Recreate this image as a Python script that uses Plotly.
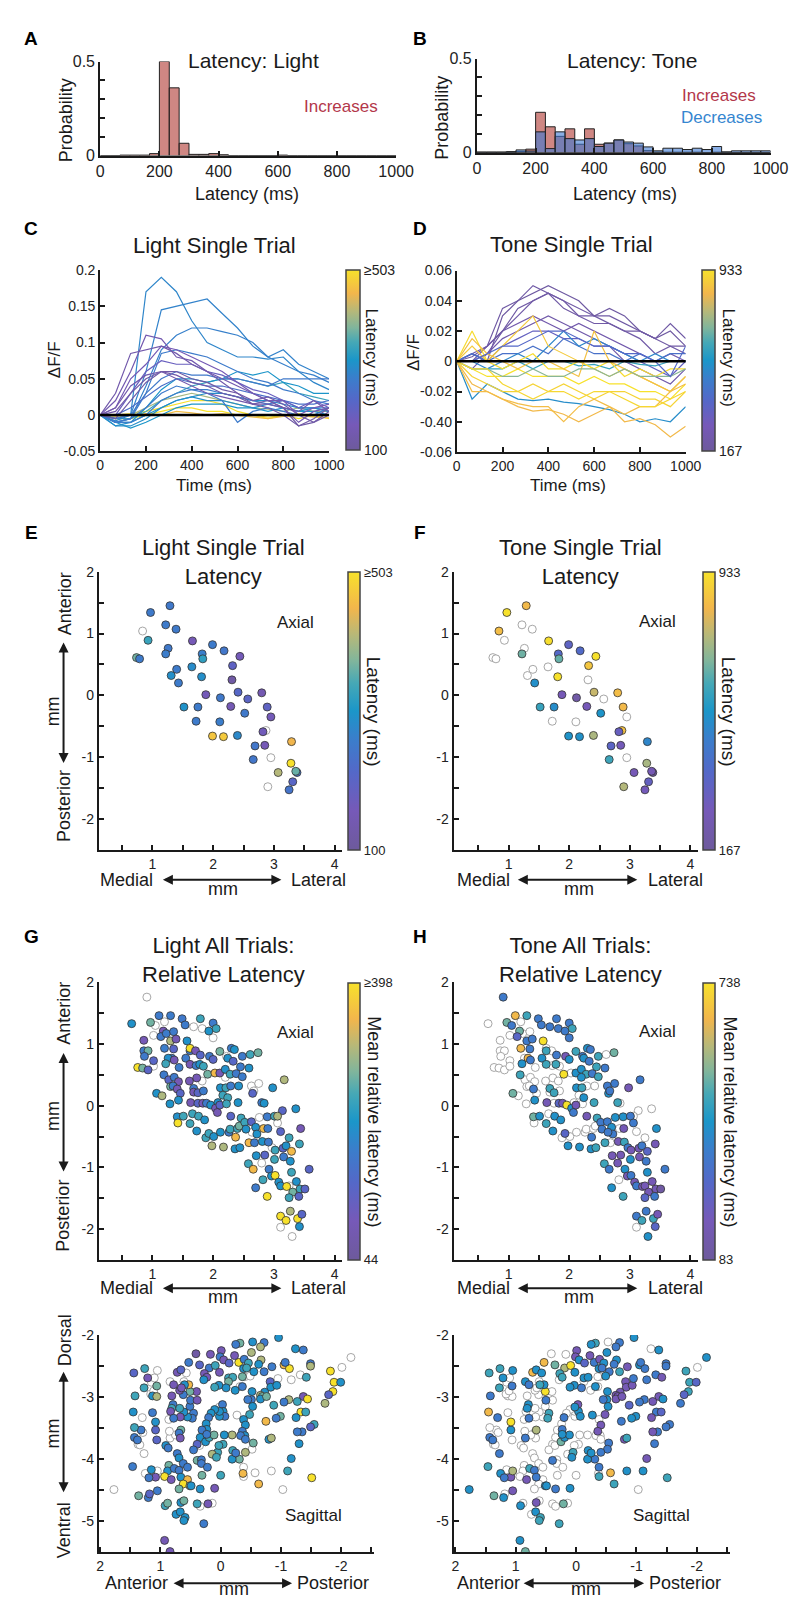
import plotly.graph_objects as go

W, H = 801, 1599
FONT = "Liberation Sans, Arial, Helvetica, sans-serif"
INK = "#1a1a1a"

# parula-like map used in all panels (purple -> blue -> cyan -> khaki -> yellow)
CMAP = [[0.0, "#6d5a9c"], [0.14, "#7659b8"], [0.28, "#5468c8"], [0.4, "#3a7ecb"],
        [0.5, "#1b96c9"], [0.6, "#46a8b6"], [0.68, "#80b59c"], [0.77, "#b5b87a"],
        [0.87, "#f2b64c"], [1.0, "#f7e12b"]]

# ---------------- A / B: latency histograms (30 bins of 33.3 ms) ----------------
N_BINS = 30
light_inc = [0, 0, 0.002, 0.002, 0.002, 0.01, 0.5, 0.36, 0.065, 0.006,
             0.006, 0.01, 0.004, 0, 0, 0, 0, 0, 0.002, 0,
             0, 0, 0, 0, 0, 0, 0, 0, 0, 0]
tone_inc = [0.002, 0.002, 0.002, 0.0, 0.005, 0.018, 0.214, 0.137, 0.086, 0.126,
            0.044, 0.126, 0.044, 0.05, 0.067, 0.047, 0.035, 0.01, 0.002, 0.002,
            0.002, 0.002, 0.002, 0.0, 0.002, 0, 0, 0, 0, 0]
tone_dec = [0.002, 0.002, 0.002, 0.005, 0.014, 0.008, 0.11, 0.021, 0.11, 0.074,
            0.067, 0.074, 0.032, 0.05, 0.067, 0.056, 0.05, 0.03, 0.009, 0.023,
            0.023, 0.016, 0.023, 0.016, 0.032, 0.004, 0.009, 0.009, 0.009, 0.009]

# ---------------- C / D: single trial traces ----------------
time_ms = [0, 67, 133, 200, 267, 333, 400, 467, 533, 600, 667, 733, 800, 867, 933, 1000]

light_latency = [275, 270, 265, 130, 140, 150, 180, 120, 255, 250, 300, 330,
                 260, 290, 255, 520, 500, 460, 400, 125, 230, 135, 290, 300]
light_traces = [
    [0, -0.008, 0.0, 0.17, 0.19, 0.17, 0.13, 0.1, 0.09, 0.08, 0.08, 0.077, 0.08, 0.06, 0.045, 0.035],
    [0, -0.005, 0, 0.06, 0.145, 0.15, 0.155, 0.16, 0.14, 0.12, 0.095, 0.08, 0.09, 0.07, 0.06, 0.05],
    [0, -0.01, -0.005, 0.04, 0.09, 0.11, 0.12, 0.12, 0.115, 0.11, 0.1, 0.08, 0.07, 0.06, 0.055, 0.045],
    [0, 0.03, 0.085, 0.09, 0.095, 0.085, 0.07, 0.06, 0.045, 0.03, 0.02, 0.025, 0.015, 0.0, -0.01, 0.005],
    [0, 0.02, 0.06, 0.11, 0.105, 0.08, 0.075, 0.06, 0.05, 0.04, 0.03, 0.02, 0.01, -0.01, 0.005, 0.01],
    [0, 0.01, 0.05, 0.07, 0.095, 0.09, 0.08, 0.07, 0.06, 0.045, 0.03, 0.02, 0.02, 0.0, 0.01, 0.015],
    [0, 0.0, 0.03, 0.06, 0.075, 0.07, 0.07, 0.06, 0.055, 0.045, 0.035, 0.03, 0.02, 0.01, 0.02, 0.01],
    [0, -0.005, 0.02, 0.045, 0.06, 0.06, 0.05, 0.045, 0.035, 0.03, 0.015, 0.01, 0.0, -0.015, -0.01, 0.0],
    [0, -0.01, -0.005, 0.03, 0.085, 0.09, 0.085, 0.08, 0.07, 0.06, 0.05, 0.045, 0.035, 0.03, 0.02, 0.015],
    [0, -0.005, 0.0, 0.03, 0.05, 0.06, 0.055, 0.055, 0.05, 0.05, 0.045, 0.04, 0.05, 0.05, 0.05, 0.05],
    [0, -0.01, -0.01, 0.01, 0.035, 0.05, 0.05, 0.045, 0.05, 0.06, 0.055, 0.06, 0.045, 0.04, 0.03, 0.03],
    [0, -0.005, -0.005, 0.005, 0.02, 0.03, 0.04, 0.045, 0.05, 0.05, 0.045, 0.04, 0.045, 0.03, 0.025, 0.02],
    [0, -0.01, -0.01, 0.0, 0.02, 0.03, 0.035, 0.035, 0.03, 0.025, 0.02, 0.015, 0.02, 0.01, 0.01, 0.01],
    [0, -0.015, -0.01, 0.0, 0.01, 0.02, 0.025, 0.02, 0.02, 0.015, 0.01, 0.015, 0.01, 0.005, 0.01, 0.005],
    [0, -0.01, -0.005, 0.01, 0.03, 0.04, 0.035, 0.03, 0.02, -0.01, 0.005, 0.01, 0.005, 0.0, 0.0, 0.01],
    [0, -0.005, -0.005, 0.0, 0.005, 0.01, 0.01, 0.005, 0.005, 0.0, 0.0, -0.005, 0.0, -0.005, 0.0, -0.005],
    [0, 0.0, 0.002, 0.005, 0.01, 0.015, 0.02, 0.02, 0.015, 0.005, 0.0, -0.003, 0.0, 0.002, -0.002, 0.0],
    [0, -0.002, 0.0, 0.002, 0.0, 0.005, 0.003, 0.0, 0.002, 0.0, -0.003, -0.005, -0.002, 0.0, -0.003, -0.004],
    [0, -0.003, 0.0, 0.01, 0.02, 0.025, 0.03, 0.025, 0.02, 0.015, 0.01, 0.008, 0.005, 0.01, 0.005, 0.005],
    [0, 0.005, 0.03, 0.05, 0.06, 0.055, 0.045, 0.04, 0.03, 0.025, 0.015, 0.02, 0.01, -0.015, -0.005, 0.01],
    [0, 0.0, 0.01, 0.025, 0.04, 0.05, 0.045, 0.04, 0.04, 0.035, 0.03, 0.025, 0.02, 0.015, 0.015, 0.02],
    [0, 0.01, 0.04, 0.055, 0.06, 0.05, 0.04, 0.03, 0.025, 0.02, 0.015, 0.015, 0.01, 0.005, 0.02, 0.005],
    [0, -0.015, -0.015, -0.005, 0.01, 0.02, 0.025, 0.03, 0.03, 0.025, 0.02, 0.02, 0.015, 0.01, 0.01, 0.005],
    [0, -0.01, -0.018, -0.01, 0.0, 0.01, 0.015, 0.015, 0.015, 0.01, 0.01, 0.005, 0.01, 0.005, 0.005, 0.0],
]

tone_latency = [200, 190, 210, 230, 330, 220, 200, 420, 500, 520, 600,
                900, 933, 840, 850, 880, 920, 860, 700, 910, 380]
tone_traces = [
    [0, 0.0, 0.01, 0.035, 0.04, 0.05, 0.045, 0.04, 0.035, 0.03, 0.03, 0.025, 0.02, 0.015, 0.01, 0.01],
    [0, 0.005, 0.0, 0.03, 0.04, 0.045, 0.05, 0.045, 0.04, 0.03, 0.035, 0.03, 0.02, 0.015, 0.02, 0.01],
    [0, -0.005, 0.005, 0.02, 0.03, 0.04, 0.045, 0.04, 0.03, 0.025, 0.025, 0.02, 0.015, 0.005, 0.01, 0.005],
    [0, 0.005, 0.01, 0.02, 0.025, 0.03, 0.025, 0.02, 0.025, 0.02, 0.015, 0.01, 0.005, 0.0, 0.005, 0.0],
    [0, 0.005, 0.0, 0.01, 0.015, 0.02, 0.02, 0.015, 0.015, 0.01, 0.01, 0.005, 0.0, -0.005, -0.01, 0.0],
    [0, 0.0, 0.005, 0.015, 0.02, 0.025, 0.03, 0.025, 0.02, 0.015, 0.01, 0.0, -0.005, -0.01, -0.015, -0.005],
    [0, 0.003, 0.01, 0.02, 0.035, 0.04, 0.045, 0.035, 0.03, 0.03, 0.025, 0.02, 0.02, 0.015, 0.025, 0.015],
    [0, 0.005, 0.0, 0.005, 0.005, 0.01, 0.005, 0.015, 0.01, 0.005, 0.005, 0.0, 0.005, 0.0, 0.005, 0.005],
    [0, 0.0, -0.005, 0.0, 0.005, 0.0, 0.01, 0.02, 0.01, 0.015, 0.01, 0.005, 0.0, 0.005, 0.0, 0.0],
    [0, -0.025, -0.015, -0.02, -0.025, -0.026, -0.025, -0.027, -0.028, -0.03, -0.032, -0.035, -0.04, -0.038, -0.04, -0.03],
    [0, -0.005, -0.005, -0.005, 0.0, -0.005, 0.0, 0.0, -0.003, -0.002, -0.005, 0.0, -0.002, -0.003, 0.0, 0.0],
    [0, -0.01, -0.015, -0.02, -0.02, -0.015, -0.02, -0.015, -0.02, -0.025, -0.02, -0.02, -0.025, -0.025, -0.03, -0.02],
    [0, -0.005, -0.01, -0.01, -0.005, -0.01, -0.01, -0.01, -0.015, -0.01, -0.015, -0.015, -0.02, -0.02, -0.025, -0.015],
    [0, -0.015, -0.02, -0.025, -0.03, -0.033, -0.032, -0.035, -0.04, -0.035, -0.03, -0.04, -0.038, -0.042, -0.05, -0.043],
    [0, -0.02, -0.02, -0.025, -0.028, -0.03, -0.03, -0.04, -0.03, -0.025, -0.03, -0.035, -0.03, -0.03, -0.02, -0.015],
    [0, 0.01, 0.0, 0.01, 0.02, 0.03, 0.01, 0.005, 0.0, -0.005, -0.01, -0.005, -0.01, -0.015, -0.02, -0.01],
    [0, 0.02, 0.0, -0.005, 0.0, 0.005, -0.005, -0.005, 0.0, -0.005, 0.0, -0.01, -0.005, -0.01, -0.005, -0.005],
    [0, 0.015, 0.005, 0.0, -0.005, 0.0, 0.0, -0.005, -0.01, 0.02, 0.0, -0.005, -0.01, -0.015, -0.02, -0.01],
    [0, -0.005, -0.005, -0.01, -0.01, -0.005, -0.01, -0.01, -0.005, -0.005, -0.01, -0.005, -0.01, -0.01, -0.01, -0.005],
    [0, -0.005, -0.005, -0.015, -0.02, -0.025, -0.02, -0.02, -0.025, -0.02, -0.02, -0.025, -0.03, -0.03, -0.025, -0.02],
    [0, 0.0, 0.005, 0.01, 0.01, 0.015, 0.02, 0.02, 0.015, 0.01, 0.01, 0.005, 0.005, 0.0, -0.01, 0.01],
]

# ---------------- E / F: single trial latency maps (same sites) ----------------
site_x = [0.97, 1.29, 0.84, 0.93, 0.74, 0.79, 1.22, 1.39, 1.26, 1.22,
          1.40, 1.31, 1.43, 1.66, 1.65, 1.82, 1.83, 1.81, 1.99, 2.18,
          2.44, 2.32, 2.31, 1.88, 2.12, 1.52, 1.75, 2.29, 2.41, 2.57,
          2.80, 2.52, 2.89, 2.95, 1.72, 2.11, 1.99, 2.17, 2.40, 2.87,
          2.82, 2.69, 2.85, 2.66, 2.95, 3.29, 3.28, 3.07, 3.38, 3.36,
          3.31, 3.25, 2.90]
site_y = [1.34, 1.45, 1.04, 0.89, 0.61, 0.59, 1.14, 1.07, 0.76, 0.67,
          0.42, 0.32, 0.20, 0.88, 0.46, 0.67, 0.59, 0.30, 0.82, 0.72,
          0.63, 0.48, 0.25, 0.01, -0.04, -0.19, -0.19, -0.18, 0.05, -0.06,
          0.04, -0.29, -0.19, -0.35, -0.42, -0.43, -0.66, -0.67, -0.65, -0.57,
          -0.59, -0.82, -0.81, -1.04, -1.01, -0.75, -1.10, -1.25, -1.25, -1.23,
          -1.40, -1.53, -1.48]
light_site_lat = [253, 250, None, 330, 366, 255, 255, 252, 250, 258,
                  255, 290, 255, 155, 285, 262, 320, 290, 255, 245,
                  160, 195, 118, 160, 250, 295, 255, 150, 210, 200,
                  145, 250, 195, 160, 255, 260, 470, 475, 280, None,
                  165, 245, 155, 245, None, 450, 503, 410, 240, 360,
                  205, 240, None]
tone_site_lat = [933, 840, 850, None, None, None, None, None, None, 670,
                 None, None, 530, 925, None, 380, 660, 933, 350, 390,
                 933, 870, None, 270, 210, 600, 520, 275, 780, None,
                 850, 545, 840, None, None, None, 540, 535, 745, 860,
                 320, 360, 280, 610, None, 500, 740, 270, 200, 260,
                 330, 280, 755]

# ---------------- G / H: all trials, axial view ----------------
ax_x = [0.91, 0.66, 0.97, 1.05, 1.11, 1.30, 1.20, 1.18, 1.02, 1.14,
        1.23, 1.35, 1.49, 1.54, 1.57, 1.68, 1.79, 1.82, 2.00, 1.93,
        2.05, 2.00, 0.86, 1.30, 1.39, 0.86, 0.93, 0.87, 1.20, 1.35,
        1.32, 1.26, 1.36, 1.02, 0.76, 0.84, 0.93, 1.02, 1.22, 1.44,
        1.55, 1.62, 1.62, 1.71, 1.79, 1.62, 1.72, 1.78, 1.84, 1.94,
        2.00, 2.11, 2.22, 2.24, 2.33, 2.30, 2.35, 2.48, 2.61, 2.74,
        2.59, 2.45, 1.91, 2.03, 2.11, 2.20, 2.28, 2.38, 2.48, 2.20,
        1.19, 1.27, 1.36, 1.43, 1.07, 1.16, 1.30, 1.34, 1.41, 1.46,
        1.43, 1.29, 1.61, 1.73, 1.82, 1.68, 1.68, 1.75, 1.84, 1.63,
        1.75, 1.83, 1.89, 1.96, 2.12, 2.21, 2.29, 2.42, 2.16, 2.24,
        2.08, 2.04, 2.07, 2.11, 2.22, 2.41, 2.65, 2.63, 2.75, 2.67,
        2.98, 3.17, 2.80, 2.84, 3.14, 3.36, 1.41, 1.42, 1.51, 1.66,
        1.76, 1.62, 1.86, 1.73, 1.88, 1.93, 2.01, 2.12, 2.26, 2.28,
        2.40, 2.29, 2.46, 2.43, 2.52, 2.54, 2.63, 2.70, 2.72, 2.64,
        2.76, 2.83, 2.89, 2.90, 3.01, 3.06, 3.06, 3.11, 3.25, 3.44,
        3.42, 1.98, 2.17, 2.36, 2.44, 2.37, 2.59, 2.68, 2.81, 2.91,
        2.97, 3.02, 3.15, 3.20, 3.29, 3.16, 3.27, 2.71, 2.85, 3.01,
        2.80, 2.58, 2.66, 2.92, 2.96, 3.02, 3.29, 3.58, 2.70, 2.89,
        2.82, 3.08, 3.11, 3.21, 3.25, 3.31, 3.37, 3.43, 3.51, 3.41,
        3.25, 3.11, 3.20, 3.27, 3.39, 3.46, 3.42, 3.11, 3.30]
ax_y = [1.76, 1.33, 1.35, 1.30, 1.46, 1.46, 1.36, 1.21, 1.14, 1.12,
        1.17, 1.20, 1.41, 1.31, 1.05, 1.28, 1.41, 1.25, 1.34, 1.21,
        1.25, 1.10, 1.06, 1.05, 1.08, 0.89, 0.89, 0.80, 0.93, 0.92,
        0.77, 0.77, 0.74, 0.73, 0.62, 0.61, 0.58, 0.64, 0.68, 0.62,
        0.77, 0.89, 0.93, 0.89, 0.82, 0.67, 0.65, 0.67, 0.64, 0.80,
        0.75, 0.88, 0.80, 0.77, 0.72, 0.93, 0.91, 0.80, 0.83, 0.86,
        0.61, 0.63, 0.51, 0.53, 0.53, 0.59, 0.51, 0.52, 0.47, 0.46,
        0.50, 0.42, 0.46, 0.39, 0.20, 0.16, 0.31, 0.32, 0.27, 0.20,
        0.09, 0.03, 0.40, 0.45, 0.40, 0.28, 0.22, 0.21, 0.24, 0.05,
        0.04, 0.04, 0.04, 0.01, 0.29, 0.29, 0.32, 0.32, 0.17, 0.13,
        0.05, -0.04, -0.11, 0.01, 0.03, 0.05, 0.20, 0.32, 0.36, 0.24,
        0.29, 0.42, 0.05, 0.04, -0.08, -0.05, -0.18, -0.28, -0.17, -0.13,
        -0.17, -0.29, -0.23, -0.41, -0.52, -0.45, -0.50, -0.43, -0.43, -0.38,
        -0.37, -0.17, -0.20, -0.33, -0.27, -0.38, -0.26, -0.35, -0.46, -0.43,
        -0.19, -0.37, -0.18, -0.37, -0.17, -0.17, -0.28, -0.42, -0.52, -0.37,
        -0.62, -0.65, -0.67, -0.70, -0.68, -0.51, -0.60, -0.60, -0.58, -0.59,
        -0.68, -0.72, -0.69, -0.65, -0.74, -0.83, -0.90, -0.81, -0.80, -0.87,
        -0.93, -0.94, -1.03, -1.03, -1.14, -1.13, -1.08, -1.03, -1.33, -1.47,
        -1.20, -1.24, -1.30, -1.31, -1.30, -1.40, -1.23, -1.35, -1.35, -1.47,
        -1.49, -1.79, -1.86, -1.71, -1.83, -1.76, -1.96, -1.97, -2.12]
light_ax_lat = [None, 214, 278, None, 179, 182, None, 90, None, 176,
                181, 178, 175, 180, 214, None, 249, None, 179, 216,
                247, None, 92, 313, 88, 180, 276, 177, 183, 136,
                178, 212, 90, 138, 398, 280, 134, None, 250, 181,
                179, 176, 398, 91, 137, 89, 180, 215, 248, 178,
                135, 279, None, 213, 139, 181, 216, 177, 251, 277,
                214, 180, 278, 355, 90, 212, 249, 178, 182, None,
                180, 136, 177, 88, 215, 312, 279, 181, 91, 137,
                213, 216, 89, 92, None, 179, 90, 135, 180, 88,
                138, 91, 178, 214, 215, 250, 181, 213, 248, 251,
                214, 90, 89, 137, 249, 216, 136, None, None, None,
                213, 314, 180, 215, 138, 214, 212, 398, 250, 248,
                249, 251, 215, 213, 250, 248, 214, 216, 179, 249,
                250, 136, 249, 278, 248, 214, 137, 213, 215, None,
                None, 356, 179, 181, 249, 313, None, 136, 250, 90,
                248, 314, 312, 214, 213, 355, 354, 180, 215, 178,
                None, 249, 137, 214, 356, 179, 215, 213, 136, 250,
                None, 248, 355, 180, 214, 398, 249, 137, 179, 398,
                250, 213, 215, 398, None, 278, 214, 249, 136, 138,
                249, 398, 398, 313, 398, 137, 214, None, None]
tone_ax_lat = [332, None, 515, 330, 659, 463, None, 512, None, 253,
               None, None, 333, 331, 738, 332, 334, 330, 332, 333,
               463, 331, None, 332, 330, None, None, None, 659, 333,
               655, None, 332, None, None, None, None, None, 397, None,
               398, 463, None, None, 331, 462, None, 464, None, 168,
               397, 463, 332, 398, 331, 396, 333, 462, None, 515,
               332, 463, 738, None, 397, 398, 463, 331, 462, 397,
               463, None, None, None, 515, None, None, None, 332, None,
               397, None, None, None, None, 463, None, 462, None, 168,
               None, 253, 168, 738, 397, 463, None, None, None, 398,
               None, 397, 332, 168, None, 463, 397, 331, 333, 332,
               168, 332, 463, None, None, None, 515, None, 397, None,
               397, 463, 398, 396, None, 253, None, None, None, None,
               None, 168, 463, None, 332, 331, 333, 397, 332, 331,
               397, None, 398, 168, 332, None, 332, None, None, 397,
               168, 397, 398, 396, 463, 332, 463, None, 168, 463,
               332, 168, 170, 332, 253, 168, 331, 168, 166, 397,
               168, 463, 332, 397, 168, 332, 397, 331, 397, 463,
               None, 168, 332, 168, 170, 166, 168, 168, 109, 332,
               253, 332, 463, 332, 463, 168, 253, None, 397]

# ---------------- G / H: all trials, sagittal view ----------------
sag_x = [-0.96, -0.53, -0.32, -0.25, -0.72, -0.66, -0.51, -0.30, -0.39, -0.46,
         -0.67, -0.63, -0.01, 0.01, -0.05, -0.23, -0.14, 0.17, 0.41, 0.53,
         0.35, 0.19, 0.09, 0.02, 0.27, 0.23, 0.28, -0.38, -0.43, -0.55,
         -0.72, -0.85, -0.40, -0.49, -0.36, -0.13, -0.20, -0.13, -0.32, 0.03,
         0.10, -0.09, -0.24, -0.36, -0.52, -0.82, -0.83, -0.73, -0.66, -0.69,
         -0.93, -0.95, -1.05, -1.14, -1.07, -1.17, -1.24, -1.37, -1.32, -1.42,
         -1.49, -1.49, -1.82, -1.88, -1.99, -2.01, -2.16, -1.86, -1.79, -1.73,
         -1.37, -1.44, -1.27, -1.13, -1.05, -0.88, -1.33, -1.41, -1.25, -0.99,
         -0.92, -0.75, -0.66, -0.76, -0.51, -0.45, -0.53, -0.48, -0.38, -0.27,
         -0.41, -0.36, -0.40, -0.33, -0.41, -0.54, -0.52, -0.41, -0.31, -0.19,
         -0.20, -0.25, -0.19, -0.06, -0.04, 0.05, 0.03, 0.14, 0.07, -0.03,
         -0.04, -0.07, 0.02, 0.02, 0.02, 0.10, 0.16, 0.20, 0.24, 0.23,
         0.31, 0.34, 0.25, 0.19, 0.11, 0.23, 0.39, 0.45, 0.39, 0.32,
         0.32, 0.22, 0.31, 0.35, 0.45, 0.47, 0.55, 0.61, 0.51, 0.50,
         0.39, 0.40, 0.51, 0.62, 0.68, 0.53, 0.60, 0.72, 0.66, 0.57,
         0.81, 0.79, 0.81, 0.83, 0.68, 0.67, 0.78, 0.66, 0.69, 0.67,
         0.84, 0.75, 0.85, 0.91, 0.87, 1.06, 1.08, 1.08, 1.13, 1.13,
         1.06, 1.16, 1.11, 1.06, 1.15, 1.21, 1.10, 1.27, 1.42, 1.45,
         1.30, 1.32, 1.29, 1.43, 1.37, 1.38, 1.27, 1.46, 1.25, 1.15,
         1.08, 1.19, 1.05, 0.86, 0.88, 0.93, 0.77, 0.69, 0.82, 0.72,
         0.69, 0.62, 0.66, 0.55, 0.55, 0.62, 0.69, 0.51, 0.49, 0.34,
         0.10, 1.05, 1.36, 1.20, 1.18, 1.77, 0.92, 0.88, 0.66, 0.61,
         0.74, 0.67, 0.59, 0.61, 0.39, 0.34, 0.21, 0.14, 0.28, 0.93,
         0.84, 0.00, -0.38, -0.38, -0.37, -0.57, -0.63, -0.84, -1.11, -1.17,
         -1.03, -1.51, -1.55, -1.49, -1.35, -1.27, -1.30, -0.80, -0.84, 1.44,
         1.26, 1.05, 0.84, 0.61, 0.78, 0.65, 1.43, 1.34, 0.86]
sag_y = [-2.04, -2.11, -2.13, -2.15, -2.12, -2.19, -2.28, -2.44, -2.39, -2.45,
         -2.40, -2.47, -2.25, -2.35, -2.40, -2.33, -2.45, -2.31, -2.30, -2.44,
         -2.48, -2.53, -2.49, -2.60, -2.62, -2.68, -2.72, -2.54, -2.53, -2.59,
         -2.59, -2.51, -2.67, -2.66, -2.67, -2.69, -2.68, -2.75, -2.83, -2.81,
         -2.84, -2.85, -2.89, -2.83, -2.91, -2.75, -2.84, -2.92, -2.97, -2.99,
         -2.81, -2.70, -2.48, -2.54, -2.44, -2.72, -2.22, -2.24, -2.64, -2.68,
         -2.46, -2.50, -2.58, -2.76, -2.76, -2.52, -2.36, -2.91, -2.96, -3.10,
         -2.99, -3.03, -3.07, -3.04, -3.08, -3.13, -3.24, -3.24, -3.33, -3.31,
         -3.34, -3.39, -3.03, -2.99, -3.04, -3.04, -3.15, -3.28, -3.36, -3.29,
         -3.45, -3.55, -3.62, -3.62, -3.68, -3.74, -3.84, -3.89, -4.00, -4.00,
         -3.86, -3.90, -3.61, -3.61, -3.76, -3.89, -3.78, -3.92, -3.97, -3.12,
         -3.23, -3.31, -3.31, -3.16, -3.23, -3.20, -3.26, -3.33, -3.43, -3.52,
         -3.53, -3.65, -3.72, -3.65, -3.61, -3.60, -3.76, -3.85, -4.02, -4.01,
         -4.07, -4.13, -4.26, -3.78, -3.26, -3.34, -3.32, -3.24, -3.15, -3.05,
         -3.05, -2.91, -2.91, -2.96, -2.89, -2.80, -2.80, -2.60, -2.56, -2.61,
         -2.98, -3.12, -3.18, -3.23, -3.18, -3.32, -3.34, -3.53, -3.58, -3.66,
         -3.66, -3.61, -3.55, -3.78, -3.82, -3.69, -3.53, -3.40, -3.25, -2.98,
         -2.99, -2.95, -2.90, -2.82, -2.76, -2.69, -2.69, -2.85, -2.98, -3.24,
         -3.33, -3.53, -3.57, -3.65, -3.76, -3.69, -3.91, -4.12, -4.23, -4.17,
         -4.29, -4.30, -4.19, -4.10, -4.19, -4.28, -4.15, -4.18, -4.33, -3.91,
         -3.98, -4.07, -4.29, -4.13, -4.33, -4.40, -4.48, -4.43, -4.43, -4.48,
         -4.47, -4.51, -4.59, -4.62, -4.56, -4.49, -4.75, -4.71, -4.70, -4.67,
         -4.89, -4.85, -4.94, -4.99, -4.72, -4.76, -4.72, -4.71, -5.04, -5.31,
         -5.49, -4.26, -4.13, -4.28, -4.23, -4.22, -4.40, -4.19, -4.19, -3.99,
         -4.49, -4.30, -3.44, -3.48, -3.56, -3.56, -3.75, -3.68, -3.66, -2.61,
         -2.54, -2.57, -2.75, -2.75, -2.80, -2.85, -3.49, -3.77, -3.36]
light_sag_lat = [214, 212, 278, 180, 178, 313, 312, 398, 181, 249,
                 314, 215, 90, 179, 88, 91, 137, 92, 58, 180,
                 136, 178, 249, 90, 89, 91, 214, 213, 250, 215,
                 179, 181, None, None, 278, 248, 250, 279, None, 214,
                 249, 213, 215, 180, 214, 137, 216, 213, 313, 278,
                 214, None, 355, 398, 179, None, 215, 180, None, 249,
                 178, 313, 398, 398, 214, None, None, 398, 136, 312,
                 90, 398, 249, 313, 180, 250, 398, 249, 214, 278,
                 179, 355, 213, 279, 178, 181, 215, 249, 214, None,
                 214, 180, 213, 179, 181, 278, None, 313, 277, 215,
                 249, 179, 313, 214, 250, 248, 249, 312, 250, 180,
                 214, 178, 215, None, 213, 214, 216, 180, 214, 213,
                 179, 214, 215, 249, 278, 181, 136, 179, 278, 180,
                 178, 181, 279, None, 179, 180, 214, 213, 181, 178,
                 90, 89, 278, 180, 91, 355, 214, 90, 137, None,
                 90, 179, 249, 91, 250, 90, 180, 278, 179, 89,
                 None, None, None, 214, 180, 136, 137, 213, 179, 214,
                 313, None, None, 278, None, 90, None, 249, 250, 214,
                 None, 179, None, 180, None, 178, None, 181, None, 214,
                 90, 179, None, 278, 213, 398, 180, 178, 91, 179,
                 214, 180, 215, 179, 355, 398, 278, 313, 214, 213,
                 90, 180, 278, 179, 136, None, 249, 278, 214, 279,
                 213, 214, 215, 214, 249, None, 90, None, 180, 89,
                 91, 249, None, None, 355, None, 355, None, 250, 214,
                 None, 398, 249, 136, 179, 180, 214, 213, 313, 137,
                 249, None, None, None, 90, 91, 249, None, None]
tone_sag_lat = [397, None, 463, 398, 332, 331, 397, 332, 168, 396,
                397, 333, 168, 166, 397, 168, 253, None, None, 659,
                515, 581, 738, 397, 463, 462, None, 398, 332, 331,
                463, 168, None, 397, None, 396, 398, None, 397, 397,
                398, 332, None, None, 397, 168, 166, 168, 170, 168,
                168, 332, 397, 331, 333, 332, None, 397, 332, 168,
                332, 331, 463, 462, 253, None, 397, 463, 253, 332,
                168, 397, 168, 332, 331, 253, 332, 253, 168, 397,
                398, 332, 168, 168, 397, 332, 397, 168, None, 397,
                168, 168, None, None, None, 332, 331, 333, 332, 397,
                396, 397, None, None, None, 463, None, None, 397, 168,
                397, 398, None, 397, None, None, None, 332, None, 332,
                None, None, 515, 397, 397, 396, None, None, 332, None,
                None, None, None, None, 463, 462, None, None, None, 332,
                None, None, 738, None, None, 397, 463, 659, 397, 398,
                None, 397, 396, None, None, None, 332, 581, None, None,
                332, None, None, None, None, None, 397, 738, None, None,
                None, None, None, 332, None, 397, None, 463, 332, 659,
                332, None, None, 331, None, 333, 332, 463, 397, None,
                168, 332, 581, None, None, None, 463, 332, 168, None,
                None, None, 332, None, None, None, None, 397, 398, 332,
                397, 168, 515, 397, None, 397, 396, None, 168, None,
                None, 397, 463, 462, None, None, 515, None, 463, 397,
                515, None, 332, 463, None, 659, 463, 397, 397, 168,
                None, 463, 332, 331, 333, 168, 332, 168, 463, 463,
                462, 397, 397, None, 332, None, None, None, None]


def P(x):
    return x / W


def Q(y):
    return 1 - y / H


def cmap_color(lat, lo, hi):
    t = min(max((lat - lo) / (hi - lo), 0.0), 1.0)
    for (p0, c0), (p1, c1) in zip(CMAP[:-1], CMAP[1:]):
        if t <= p1:
            f = (t - p0) / (p1 - p0)
            a = [int(c0[i:i + 2], 16) for i in (1, 3, 5)]
            b = [int(c1[i:i + 2], 16) for i in (1, 3, 5)]
            r, g, bl = [round(a[k] + f * (b[k] - a[k])) for k in range(3)]
            return f"rgb({r},{g},{bl})"
    return CMAP[-1][1]


fig = go.Figure()
layout = {}

AX = dict(showline=True, linecolor=INK, linewidth=2, ticks="inside", ticklen=5, tickwidth=1.5,
          tickcolor=INK, showgrid=False, zeroline=False, fixedrange=True)


def axes(n, x0, x1, y0, y1, xr, yr, xt, xtt, yt, ytt, fs):
    s = "" if n == 1 else str(n)
    tf = dict(size=fs, color="#222", family=FONT)
    layout["xaxis" + s] = dict(domain=[P(x0), P(x1)], range=xr, anchor="y" + s, tickmode="array",
                               tickvals=xt, ticktext=xtt, tickfont=tf, **AX)
    layout["yaxis" + s] = dict(domain=[Q(y1), Q(y0)], range=yr, anchor="x" + s, tickmode="array",
                               tickvals=yt, ticktext=ytt, tickfont=tf, **AX)


def cbar_axis(lo, hi, lo_txt, hi_txt, x, y0, y1, th, fs):
    return dict(colorscale=CMAP, cmin=lo, cmax=hi,
                colorbar=dict(x=P(x), xanchor="left", xpad=0, y=Q((y0 + y1) / 2), yanchor="middle",
                              ypad=0, len=(y1 - y0) / H, lenmode="fraction", thickness=th,
                              outlinewidth=1.5, outlinecolor="#444", tickmode="array",
                              tickvals=[lo, hi], ticktext=[lo_txt, hi_txt], ticks="",
                              tickfont=dict(size=fs, color="#222", family=FONT)))


ms_ticks = [0, 200, 400, 600, 800, 1000]
ms_text = [str(v) for v in ms_ticks]

# A
axes(1, 90.7, 395, 46, 141, [0, 1000], [0, 0.5], ms_ticks, ms_text,
     [0, 0.1, 0.2, 0.3, 0.4, 0.5], ["0", "", "", "", "", "0.5"], 16)
# B
axes(2, 478, 780, 43, 138, [0, 1000], [0, 0.5], ms_ticks, ms_text,
     [0, 0.1, 0.2, 0.3, 0.4, 0.5], ["0", "", "", "", "", "0.5"], 16)
# C
axes(3, 90.7, 326, 256.7, 440, [0, 1000], [-0.05, 0.2], ms_ticks, ms_text,
     [-0.05, 0, 0.05, 0.1, 0.15, 0.2], ["-0.05", "0", "0.05", "0.1", "0.15", "0.2"], 14)
# D
axes(4, 457.3, 692.7, 257.3, 440.7, [0, 1000], [-0.06, 0.06], ms_ticks, ms_text,
     [-0.06, -0.04, -0.02, 0, 0.02, 0.04, 0.06],
     ["-0.06", "-0.40", "-0.02", "0", "0.02", "0.04", "0.06"], 14)

half_x = [0.5, 1, 1.5, 2, 2.5, 3, 3.5, 4]
half_xt = ["", "1", "", "2", "", "3", "", "4"]
half_y = [-2.5, -2, -1.5, -1, -0.5, 0, 0.5, 1, 1.5, 2]
half_yt = ["", "-2", "", "-1", "", "0", "", "1", "", "2"]
sag_xt_v = [2, 1.5, 1, 0.5, 0, -0.5, -1, -1.5, -2, -2.5]
sag_xt_t = ["2", "", "1", "", "0", "", "-1", "", "-2", ""]
sag_yt_v = [-5.5, -5, -4.5, -4, -3.5, -3, -2.5, -2]
sag_yt_t = ["", "-5", "", "-4", "", "-3", "", "-2"]

axes(5, 89.3, 339.3, 561.7, 842.7, [0.12, 4.12], [-2.5, 2], half_x, half_xt, half_y, half_yt, 14)
axes(6, 454, 705, 561.7, 842.7, [0.09, 4.12], [-2.5, 2], half_x, half_xt, half_y, half_yt, 14)
axes(7, 89.3, 339.3, 976.7, 1257.3, [0.12, 4.12], [-2.5, 2], half_x, half_xt, half_y, half_yt, 14)
axes(8, 454, 705, 976.7, 1257.3, [0.09, 4.12], [-2.5, 2], half_x, half_xt, half_y, half_yt, 14)
axes(9, 89.3, 372.7, 1333.3, 1552.7, [2.02, -2.55], [-5.5, -2], sag_xt_v, sag_xt_t, sag_yt_v, sag_yt_t, 14)
axes(10, 454, 738.3, 1333.3, 1552.7, [2.03, -2.55], [-5.5, -2], sag_xt_v, sag_xt_t, sag_yt_v, sag_yt_t, 14)

layout["coloraxis"] = cbar_axis(100, 503, "100", "≥503", 343, 257, 439, 14, 14)
layout["coloraxis2"] = cbar_axis(167, 933, "167", "933", 709, 257, 440, 13, 14)
layout["coloraxis3"] = cbar_axis(100, 503, "100", "≥503", 346, 562, 843, 12, 13)
layout["coloraxis4"] = cbar_axis(167, 933, "167", "933", 711, 562, 843, 12, 13)
layout["coloraxis5"] = cbar_axis(44, 398, "44", "≥398", 346, 977, 1257, 12, 13)
layout["coloraxis6"] = cbar_axis(83, 738, "83", "738", 711, 977, 1257, 12, 13)

# histograms
centers = [(i + 0.5) * 1000 / N_BINS for i in range(N_BINS)]
RED = "rgba(178,62,55,0.62)"
BLUE = "rgba(60,120,210,0.6)"
fig.add_trace(go.Bar(x=centers, y=light_inc, width=1000 / N_BINS, marker=dict(color=RED, line=dict(color="#222", width=1)),
                     xaxis="x", yaxis="y", showlegend=False))
fig.add_trace(go.Bar(x=centers, y=tone_inc, width=1000 / N_BINS, marker=dict(color=RED, line=dict(color="#222", width=1)),
                     xaxis="x2", yaxis="y2", showlegend=False))
fig.add_trace(go.Bar(x=centers, y=tone_dec, width=1000 / N_BINS, marker=dict(color=BLUE, line=dict(color="#222", width=1)),
                     xaxis="x2", yaxis="y2", showlegend=False))

# traces C / D
for lat, ys in sorted(zip(light_latency, light_traces), key=lambda p: -p[0]):
    fig.add_trace(go.Scatter(x=time_ms, y=ys, mode="lines", line=dict(color=cmap_color(lat, 100, 503), width=1.2),
                             xaxis="x3", yaxis="y3", showlegend=False, hoverinfo="skip"))
for lat, ys in zip(tone_latency, tone_traces):
    fig.add_trace(go.Scatter(x=time_ms, y=ys, mode="lines", line=dict(color=cmap_color(lat, 167, 933), width=1.2),
                             xaxis="x4", yaxis="y4", showlegend=False, hoverinfo="skip"))
for n, ca, lat in ((3, "coloraxis", light_latency), (4, "coloraxis2", tone_latency)):
    fig.add_trace(go.Scatter(x=[None], y=[None], mode="markers", marker=dict(color=[lat[0]], coloraxis=ca),
                             xaxis=f"x{n}", yaxis=f"y{n}", showlegend=False))
for n in (3, 4):
    fig.add_shape(type="line", xref=f"x{n} domain", x0=0, x1=1, yref=f"y{n}", y0=0, y1=0,
                  line=dict(color="black", width=2.5))


def sites(xs, ys, vals, n, ca):
    ox = [x for x, v in zip(xs, vals) if v is None]
    oy = [y for y, v in zip(ys, vals) if v is None]
    fx = [x for x, v in zip(xs, vals) if v is not None]
    fy = [y for y, v in zip(ys, vals) if v is not None]
    fv = [v for v in vals if v is not None]
    fig.add_trace(go.Scatter(x=ox, y=oy, mode="markers",
                             marker=dict(size=8, color="white", line=dict(color="#9c9c9c", width=0.9)),
                             xaxis=f"x{n}", yaxis=f"y{n}", showlegend=False, hoverinfo="skip"))
    fig.add_trace(go.Scatter(x=fx, y=fy, mode="markers",
                             marker=dict(size=8, color=fv, coloraxis=ca, line=dict(color="#333", width=0.8)),
                             xaxis=f"x{n}", yaxis=f"y{n}", showlegend=False, hoverinfo="skip"))


sites(site_x, site_y, light_site_lat, 5, "coloraxis3")
sites(site_x, site_y, tone_site_lat, 6, "coloraxis4")
sites(ax_x, ax_y, light_ax_lat, 7, "coloraxis5")
sites(ax_x, ax_y, tone_ax_lat, 8, "coloraxis6")
sites(sag_x, sag_y, light_sag_lat, 9, "coloraxis5")
sites(sag_x, sag_y, tone_sag_lat, 10, "coloraxis6")

ann = []


def txt(x, y, s, size, color="#1a1a1a", angle=0, bold=False):
    ann.append(dict(x=P(x), y=Q(y), xref="paper", yref="paper", text=f"<b>{s}</b>" if bold else s,
                    showarrow=False, textangle=angle, xanchor="center", yanchor="middle",
                    font=dict(size=size, color=color, family=FONT)))


def darrow(x0, y0, x1, y1):
    # head at (x1, y1); tail offset given in pixels
    ann.append(dict(x=P(x1), y=Q(y1), ax=x0 - x1, ay=y0 - y1, xref="paper", yref="paper",
                    text="", showarrow=True, arrowside="end+start",
                    arrowhead=2, startarrowhead=2, arrowsize=1, startarrowsize=1,
                    arrowwidth=2, arrowcolor=INK, standoff=0, startstandoff=0))


for s, x, y in (("A", 20, 23), ("B", 420, 23), ("C", 20, 215), ("D", 420, 215),
                ("E", 20, 522), ("F", 420, 522), ("G", 20, 930), ("H", 420, 930)):
    txt(x, y, s, 19, "black", bold=True)

txt(248, 45, "Latency: Light", 21)
txt(637, 45, "Latency: Tone", 21)
txt(338, 91, "Increases", 17, "#b3374a")
txt(727, 80, "Increases", 17, "#b3374a")
txt(730, 103, "Decreases", 17, "#3586d0")
txt(55, 105, "Probability", 18, angle=-90)
txt(442, 103, "Probability", 18, angle=-90)
txt(242, 180, "Latency (ms)", 18)
txt(630, 180, "Latency (ms)", 18)

txt(208, 232, "Light Single Trial", 22)
txt(575, 231, "Tone Single Trial", 22)
txt(43, 347, "ΔF/F", 17, angle=-90)
txt(413, 340, "ΔF/F", 17, angle=-90)
txt(208, 475, "Time (ms)", 17)
txt(572, 475, "Time (ms)", 17)
txt(370, 345, "Latency (ms)", 17, angle=90)
txt(737, 345, "Latency (ms)", 17, angle=90)

txt(217, 552, "Light Single Trial<br>Latency", 22)
txt(585, 552, "Tone Single Trial<br>Latency", 22)
txt(217, 954, "Light All Trials:<br>Relative Latency", 22)
txt(585, 954, "Tone All Trials:<br>Relative Latency", 22)
txt(372, 703, "Latency (ms)", 19, angle=90)
txt(737, 703, "Latency (ms)", 19, angle=90)
txt(372, 1118, "Mean relative latency (ms)", 18, angle=90)
txt(738, 1118, "Mean relative latency (ms)", 18, angle=90)

for x, y in ((292, 613), (664, 612), (292, 1027), (664, 1026)):
    txt(x, y, "Axial", 17)
for x in (310, 668):
    txt(x, 1516, "Sagittal", 17)

# vertical direction labels
for top, a0, a1, mid, bot, yt, yb in (("Anterior", 633, 755, 703, "Posterior", 594, 799),
                                      ("Anterior", 1048, 1168, 1112, "Posterior", 1008, 1213),
                                      ("Dorsal", 1370, 1492, 1433, "Ventral", 1339, 1531)):
    txt(54, yt, top, 18, angle=-90)
    txt(53, yb, bot, 18, angle=-90)
    txt(42, mid, "mm", 18, angle=-90)
    darrow(53, a0, 53, a1)

# horizontal direction labels
for l_txt, r_txt, lx, a0, a1, rx, mx, y, my in (
        ("Medial", "Lateral", 118, 157, 277, 315, 217, 873, 882),
        ("Medial", "Lateral", 485, 522, 643, 682, 583, 873, 882),
        ("Medial", "Lateral", 118, 157, 277, 315, 217, 1286, 1295),
        ("Medial", "Lateral", 485, 522, 643, 682, 583, 1286, 1295),
        ("Anterior", "Posterior", 128, 168, 288, 330, 228, 1584, 1590),
        ("Anterior", "Posterior", 490, 528, 650, 692, 590, 1584, 1590)):
    txt(lx, y, l_txt, 18)
    txt(rx, y, r_txt, 18)
    txt(mx, my, "mm", 18)
    darrow(a0, y, a1, y)

fig.update_layout(**layout)
fig.update_layout(width=W, height=H, autosize=False, margin=dict(l=0, r=0, t=0, b=0),
                  paper_bgcolor="white", plot_bgcolor="white", barmode="overlay",
                  font=dict(family=FONT, color="#1a1a1a"), annotations=ann, showlegend=False)

fig.write_html("out.html")
